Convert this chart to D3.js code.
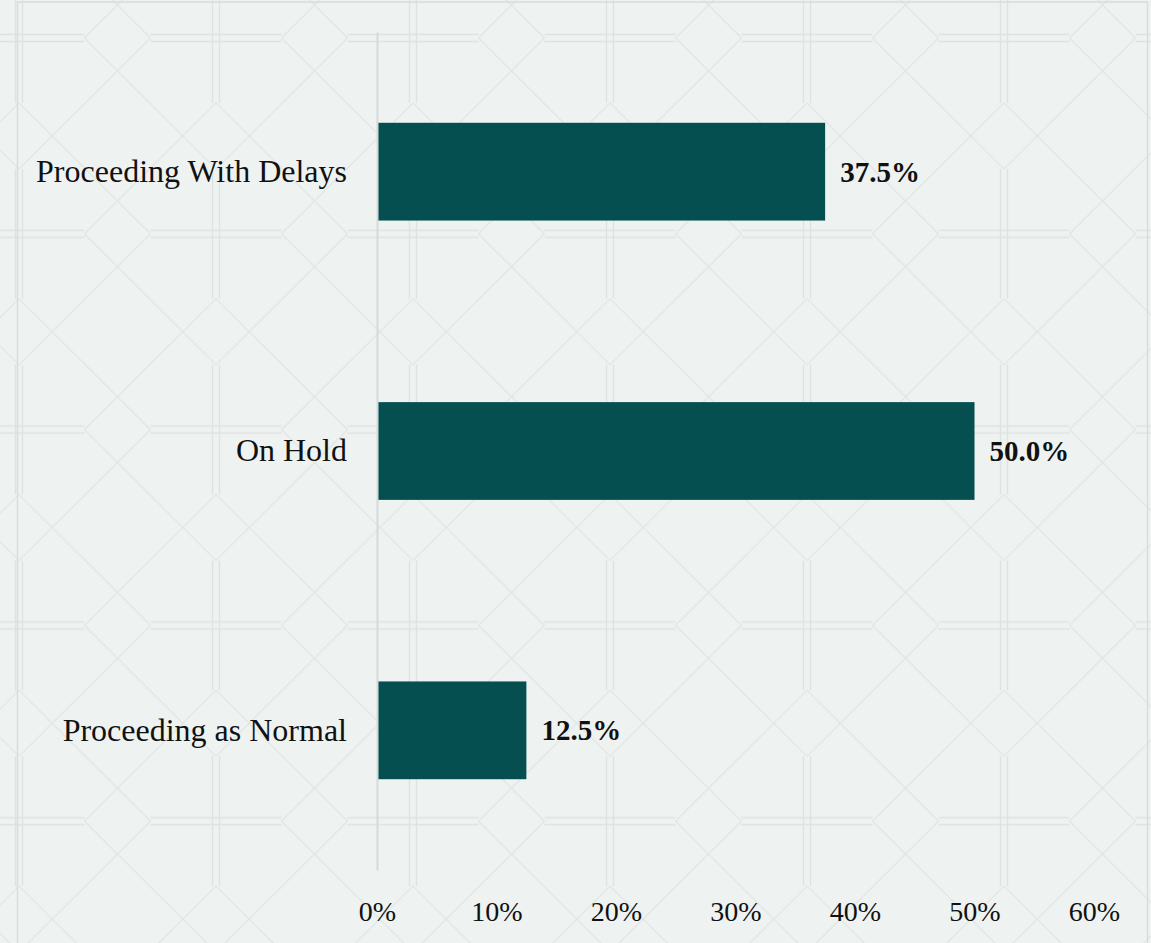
<!DOCTYPE html>
<html>
<head>
<meta charset="utf-8">
<script src="https://cdn.jsdelivr.net/npm/d3@7"></script>
<style>
  body { margin: 0; background: #eef3f1; }
  svg { display: block; }
  .cat-label { font-family: "Liberation Serif", serif; font-size: 32px; fill: #111; }
  .val-label { font-family: "Liberation Serif", serif; font-size: 29px; font-weight: bold; fill: #111; }
  .tick-label { font-family: "Liberation Serif", serif; font-size: 28px; fill: #111; }
</style>
</head>
<body>
<svg id="chart" width="1151" height="943"></svg>
<script>
// data
var categories = ["Proceeding With Delays", "On Hold", "Proceeding as Normal"];
var shares = [0.375, 0.50, 0.125];
var tickValues = [0, 0.1, 0.2, 0.3, 0.4, 0.5, 0.6];

var width = 1151,
    height = 943;
var margin = { top: 32, right: 57, bottom: 73, left: 377 };

var svg = d3.select("#chart");

// background: faint octagon lattice
var W = 197, H = 195.8, d = 3.5, a = 33;
var mx = W / 2, my = H / 2;
var pat = svg.append("defs").append("pattern")
    .attr("id", "lattice")
    .attr("patternUnits", "userSpaceOnUse")
    .attr("x", 19)
    .attr("y", 38)
    .attr("width", W)
    .attr("height", H);

// double lines along the tile edges, broken at the middle of each edge
var straight = [
    [0, d, mx - a, d], [mx + a, d, W, d],
    [0, H - d, mx - a, H - d], [mx + a, H - d, W, H - d],
    [d, 0, d, my - a], [d, my + a, d, H],
    [W - d, 0, W - d, my - a], [W - d, my + a, W - d, H]
];
// the four 45 degree strokes that make the diamonds
var diagonals = [
    [mx + a, 0, 0, my + a],
    [mx - a, 0, W, my + a],
    [mx + a, H, 0, my - a],
    [mx - a, H, W, my - a]
];
pat.append("rect").attr("width", W).attr("height", H).attr("fill", "#eef3f1");
pat.selectAll("line.s").data(straight).enter().append("line")
    .attr("class", "s")
    .attr("x1", l => l[0]).attr("y1", l => l[1])
    .attr("x2", l => l[2]).attr("y2", l => l[3])
    .attr("stroke", "#dfe2e1").attr("stroke-width", 1.4);
pat.selectAll("line.d").data(diagonals).enter().append("line")
    .attr("class", "d")
    .attr("x1", l => l[0]).attr("y1", l => l[1])
    .attr("x2", l => l[2]).attr("y2", l => l[3])
    .attr("stroke", "#e2e5e4").attr("stroke-width", 1.2);

svg.append("rect")
    .attr("width", width).attr("height", height)
    .attr("fill", "url(#lattice)");

// outer frame
svg.append("rect")
    .attr("x", 17.5).attr("y", 2)
    .attr("width", 1130).attr("height", 1000)
    .attr("fill", "none")
    .attr("stroke", "#d9dcdb")
    .attr("stroke-width", 1.5);

// scales
var x = d3.scaleLinear()
    .domain([0, 0.6])
    .range([margin.left, width - margin.right]);

var y = d3.scaleBand()
    .domain(categories)
    .range([margin.top, height - margin.bottom])
    .paddingInner(0.65)
    .paddingOuter(0.325);

// bars
svg.selectAll(".bar")
    .data(categories)
    .enter()
    .append("rect")
    .attr("class", "bar")
    .attr("x", x(0))
    .attr("y", c => y(c))
    .attr("width", (c, i) => x(shares[i]) - x(0))
    .attr("height", y.bandwidth())
    .attr("fill", "#054f51");

// value labels
svg.selectAll(".val-label")
    .data(categories)
    .enter()
    .append("text")
    .attr("class", "val-label")
    .attr("x", (c, i) => x(shares[i]) + 15)
    .attr("y", c => y(c) + y.bandwidth() / 2)
    .attr("dy", "0.35em")
    .text((c, i) => d3.format(".1%")(shares[i]));

// y axis: category names and the light vertical rule
var yAxis = d3.axisLeft(y).tickSize(0).tickPadding(30);
var yGroup = svg.append("g")
    .attr("transform", "translate(" + x(0) + ",0)")
    .call(yAxis);
yGroup.select(".domain")
    .attr("stroke", "#d6d9d8")
    .attr("stroke-width", 2);
yGroup.selectAll(".tick text")
    .attr("class", "cat-label")
    .attr("font-family", null)
    .attr("font-size", null)
    .attr("fill", null);

// x axis: only labels
var xAxis = d3.axisBottom(x)
    .tickValues(tickValues)
    .tickSize(0)
    .tickPadding(0)
    .tickFormat(d3.format(".0%"));
var xGroup = svg.append("g")
    .attr("transform", "translate(0," + (height - margin.bottom) + ")")
    .call(xAxis);
xGroup.select(".domain").remove();
xGroup.selectAll(".tick text")
    .attr("class", "tick-label")
    .attr("font-family", null)
    .attr("font-size", null)
    .attr("fill", null)
    .attr("dy", null)
    .attr("y", 51);
</script>
</body>
</html>
